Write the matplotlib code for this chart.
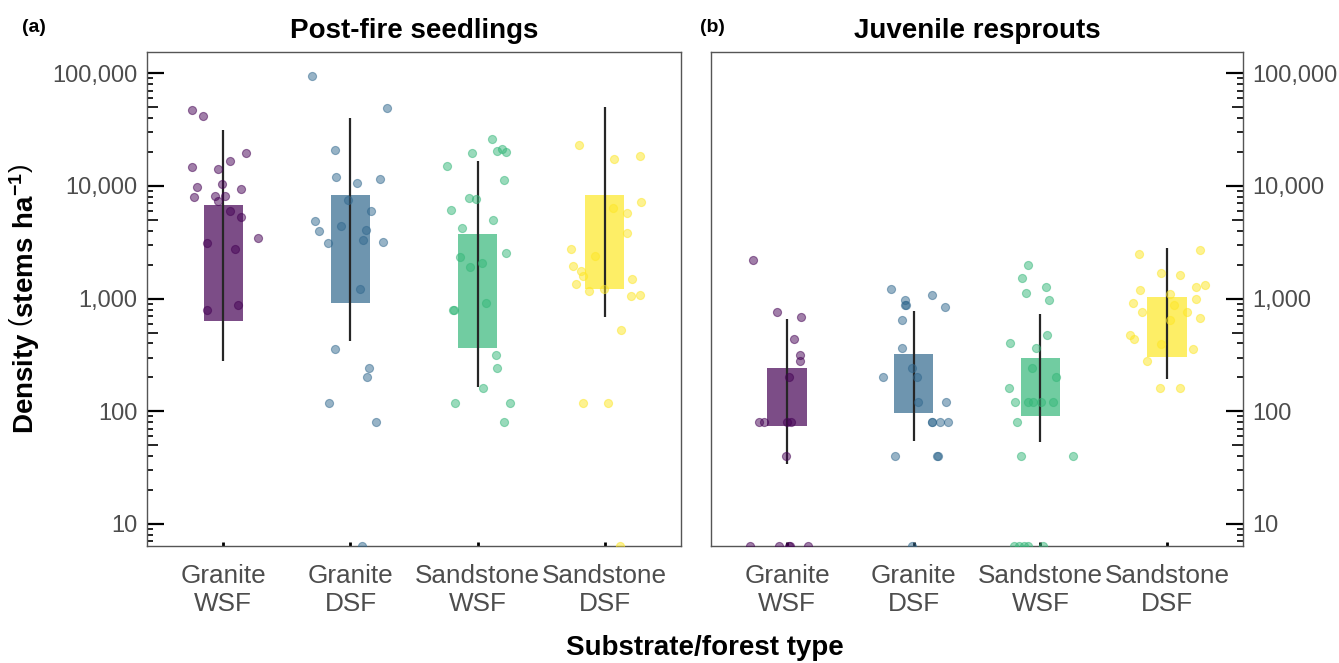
import numpy as np
import matplotlib.pyplot as plt
from matplotlib.ticker import FixedLocator, FuncFormatter, NullFormatter, NullLocator, LogLocator

plt.rcParams['font.family'] = 'Liberation Sans'
plt.rcParams['mathtext.fontset'] = 'custom'
plt.rcParams['mathtext.rm'] = 'Liberation Sans'
plt.rcParams['mathtext.bf'] = 'Liberation Sans:bold'

categories = ["Granite\nWSF", "Granite\nDSF", "Sandstone\nWSF", "Sandstone\nDSF"]
colors = ["#440154", "#31688E", "#35B779", "#FDE725"]

# post-fire seedlings (stems/ha), 0 = no stems
seed_gw = [47500, 42000, 19500, 16600, 14600, 14000, 10500, 9840, 9330, 7930,
           8090, 8090, 7400, 5990, 5260, 3440, 3090, 2730, 880, 800]
seed_gd = [94600, 49500, 20800, 12100, 11600, 10700, 7530, 5980, 4910, 4060, 4380,
           3980, 3290, 3180, 3090, 1210, 357, 240, 200, 119, 80, 0]
seed_sw = [25900, 21400, 19500, 20600, 20100, 15100, 11200, 7810, 7700, 6150, 4950,
           4200, 2530, 2320, 2050, 1920, 918, 800, 800, 319, 240, 160, 119, 119, 80]
seed_sd = [22900, 18500, 17200, 6410, 7150, 5710, 3840, 2770, 2370, 1930, 1770,
           1600, 1490, 1360, 1170, 1210, 1050, 1080, 522, 119, 119, 0]
seed_box_lo = [635, 918, 361, 1210]
seed_box_hi = [6760, 8300, 3740, 8300]
seed_line_lo = [280, 422, 165, 690]
seed_line_hi = [31400, 39800, 16700, 50500]

# juvenile resprouts
resp_gw = [2210, 681, 759, 440, 319, 280, 200, 80, 80, 80, 80, 40, 0, 0, 0, 0, 0]
resp_gd = [1210, 1080, 964, 870, 840, 880, 640, 361, 240, 200, 200, 120, 120,
           80, 80, 80, 80, 40, 40, 40, 0]
resp_sw = [1970, 1530, 1280, 1120, 964, 478, 400, 361, 240, 200, 160, 120, 120,
           120, 120, 120, 80, 40, 40, 0, 0, 0, 0, 0]
resp_sd = [2700, 2500, 1680, 1610, 1280, 1330, 1200, 1090, 996, 918, 880, 764, 764,
           676, 640, 478, 440, 397, 358, 280, 160, 160]
resp_box_lo = [74, 96, 90, 301]
resp_box_hi = [240, 324, 296, 1030]
resp_line_lo = [34, 55, 53, 192]
resp_line_hi = [662, 780, 728, 2790]

ymin, ymax = 6.38, 154500
rng = np.random.default_rng(3)


def draw_panel(ax, points, box_lo, box_hi, line_lo, line_hi, side):
    x = np.arange(1, 5)
    ax.set_yscale('log')
    ax.bar(x, np.array(box_hi) - np.array(box_lo), bottom=box_lo, width=0.31,
           color=colors, alpha=0.7, zorder=2)
    ax.vlines(x, line_lo, line_hi, color='#262626', lw=1.6, zorder=3)
    for i, vals in enumerate(points):
        v = np.array(vals, float)
        v = np.where(v > 0, v, ymin)
        xj = x[i] + rng.uniform(-0.3, 0.3, len(v))
        ax.scatter(xj, v, s=34, color=colors[i], alpha=0.5, edgecolor=colors[i],
                   lw=0.8, zorder=4)
    ax.set_xlim(0.4, 4.6)
    ax.set_ylim(ymin, ymax)

    ax.yaxis.set_major_locator(LogLocator(base=10, numticks=10))
    ax.yaxis.set_minor_locator(FixedLocator([m * 10**k for k in range(0, 6) for m in (2, 3, 4, 6, 7, 8, 9)]))
    ax.yaxis.set_minor_formatter(NullFormatter())
    ax.yaxis.set_major_formatter(FuncFormatter(lambda v, p: f"{v:,.0f}"))
    ax.tick_params(axis='y', which='major', direction='in', length=12, width=1.6,
                   color='black', labelsize=17, labelcolor='#4d4d4d', pad=7)
    ax.tick_params(axis='y', which='minor', direction='in', length=4.5, width=1.2, color='black')
    if side == 'right':
        ax.yaxis.tick_right()
        ax.tick_params(axis='y', which='both', left=False, right=True, labelleft=False, labelright=True)

    # medium ticks at 5 x 10^k
    sec = ax.secondary_yaxis(side)
    sec.set_yticks([5 * 10**k for k in range(0, 6)])
    sec.yaxis.set_major_formatter(NullFormatter())
    sec.yaxis.set_minor_locator(NullLocator())
    sec.tick_params(direction='in', length=8, width=1.2, color='black')
    for s in sec.spines.values():
        s.set_visible(False)

    ax.set_xticks(x, categories)
    ax.tick_params(axis='x', direction='in', length=3, width=2, color='black',
                   labelsize=18.8, labelcolor='#4d4d4d', pad=13)
    for s in ax.spines.values():
        s.set_color('#555555')
        s.set_linewidth(1)


fig = plt.figure(figsize=(13.39, 6.63), dpi=100)
ax1 = fig.add_axes([0.1098, 0.1765, 0.3988, 0.7451])
ax2 = fig.add_axes([0.5310, 0.1765, 0.3973, 0.7451])

draw_panel(ax1, [seed_gw, seed_gd, seed_sw, seed_sd], seed_box_lo, seed_box_hi,
           seed_line_lo, seed_line_hi, 'left')
draw_panel(ax2, [resp_gw, resp_gd, resp_sw, resp_sd], resp_box_lo, resp_box_hi,
           resp_line_lo, resp_line_hi, 'right')

ax1.set_title('Post-fire seedlings', fontsize=20, fontweight='bold', pad=10)
ax2.set_title('Juvenile resprouts', fontsize=20, fontweight='bold', pad=10)
ax1.set_ylabel(r'Density $\left(\mathbf{stems\ ha^{-1}}\right)$', fontsize=20,
               fontweight='bold', labelpad=8)

fig.text(22 / 1339, 1 - 28 / 663, '(a)', fontsize=14, fontweight='bold', va='center')
fig.text(700 / 1339, 1 - 28 / 663, '(b)', fontsize=14, fontweight='bold', va='center')
fig.text(705 / 1339, 1 - 648 / 663, 'Substrate/forest type', fontsize=20,
         fontweight='bold', ha='center', va='center')

fig.savefig('out.png', dpi=100)
